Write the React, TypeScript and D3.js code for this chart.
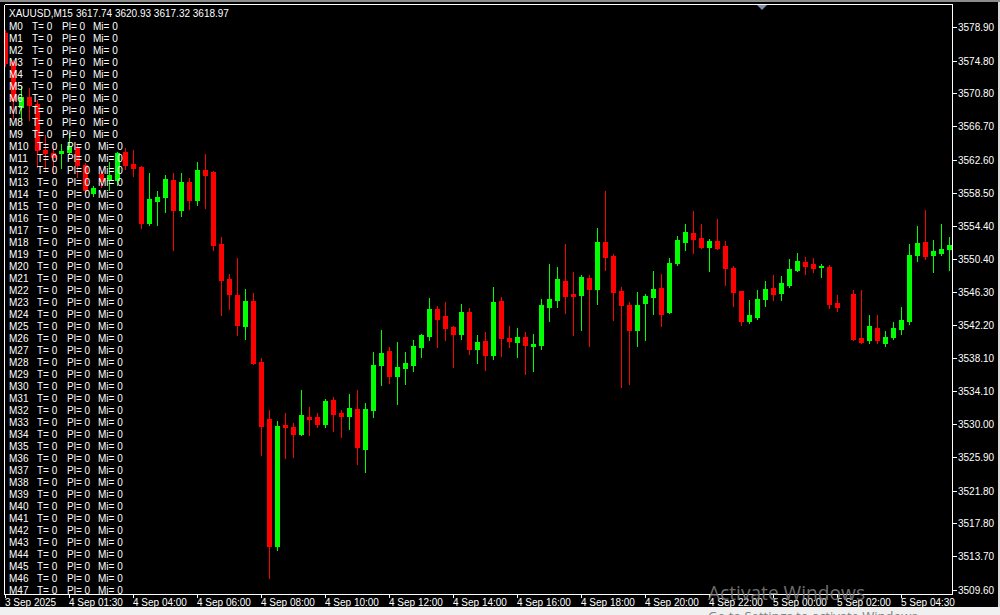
import React from 'react';
import * as d3 from 'd3';

// M15 candles (null = empty slot)
const opens = [
  3578.21, 3574.64, 3569.09, 3570.32, 3569.46, 3563.79, 3563.42, 3563.42, 3563.54, 3564.16,
  3561.94, 3558.48, 3560.83, 3560.09, 3560.09, 3563.54, 3562.06, 3561.69, 3554.79, 3557.5,
  3557.99, 3560.09, 3556.39, 3559.84, 3557.62, 3561.32, 3561.07, 3552.2, 3547.88, 3545.91,
  3542.09, 3545.17, 3537.65, 3530.62, 3514.96, 3529.88, 3529.64, 3528.77, 3530.87, 3530.87,
  3530.0, 3532.96, 3531.36, 3530.99, 3531.85, 3526.92, 3531.73, 3537.28, 3539.01, 3535.92,
  3536.91, 3537.28, 3539.5, 3540.85, 3544.18, 3543.32, 3541.96, 3541.1, 3543.81, 3539.25,
  3540.24, 3538.51, 3545.17, 3540.61, 3540.12, 3540.73, 3539.62, 3539.75, 3544.43, 3545.29,
  3547.64, 3546.03, 3545.91, 3548.01, 3546.65, 3552.44, 3550.72, 3546.4, 3544.68, 3541.59,
  3544.92, 3545.66, 3546.77, 3543.81, 3549.85, 3552.44, 3553.55, 3552.94, 3551.83, 3552.57,
  3551.95, 3549.24, 3546.4, 3542.7, 3543.2, 3545.42, 3546.77, 3546.16, 3547.14, 3548.99,
  3549.98, 3549.73, 3549.36, 3549.36, 3544.92, null, 3546.03, 3540.61, 3540.36, 3541.84,
  3539.99, 3540.73, 3541.72, 3542.7, 3550.84, 3552.44, 3550.84, 3551.09, 3551.58,
];
const highs = [
  3578.58, 3574.88, 3571.68, 3571.43, 3569.95, 3565.64, 3564.4, 3564.53, 3565.88, 3564.53,
  3562.18, 3559.35, 3561.07, 3562.31, 3563.54, 3564.03, 3563.79, 3561.81, 3560.95, 3558.73,
  3560.7, 3560.95, 3560.95, 3560.33, 3562.31, 3563.29, 3561.2, 3553.06, 3548.5, 3550.47,
  3546.65, 3546.16, 3538.14, 3531.73, 3530.37, 3531.36, 3530.13, 3534.2, 3532.1, 3531.36,
  3533.09, 3533.33, 3531.73, 3533.7, 3534.2, 3532.59, 3538.88, 3541.59, 3539.5, 3540.12,
  3538.88, 3540.36, 3541.1, 3545.54, 3544.55, 3545.05, 3542.09, 3544.8, 3544.31, 3540.98,
  3541.35, 3546.9, 3545.66, 3542.09, 3541.84, 3541.35, 3541.1, 3545.42, 3549.73, 3549.36,
  3552.2, 3548.75, 3548.38, 3548.38, 3554.17, 3558.73, 3550.96, 3546.9, 3545.05, 3546.28,
  3546.03, 3548.87, 3548.5, 3550.47, 3553.18, 3554.66, 3556.27, 3554.66, 3552.81, 3555.28,
  3552.57, 3549.48, 3546.4, 3545.29, 3546.53, 3547.64, 3548.38, 3548.25, 3550.35, 3551.09,
  3550.59, 3550.47, 3549.73, 3549.61, 3545.91, null, 3546.53, 3546.53, 3543.44, 3543.44,
  3541.47, 3542.58, 3544.43, 3552.2, 3554.42, 3556.39, 3552.69, 3554.66, 3553.06,
];
const lows = [
  3574.14, 3567.73, 3567.73, 3567.49, 3561.69, 3561.32, 3560.95, 3561.57, 3563.29, 3560.46,
  3558.48, 3558.12, 3559.22, 3558.85, 3559.47, 3561.44, 3560.58, 3554.17, 3554.54, 3554.54,
  3556.14, 3551.46, 3555.65, 3556.51, 3557.01, 3556.64, 3551.46, 3543.44, 3544.18, 3540.98,
  3540.48, 3537.4, 3526.18, 3511.02, 3514.47, 3525.81, 3525.93, 3528.65, 3528.65, 3529.64,
  3529.64, 3529.14, 3528.4, 3529.39, 3525.07, 3524.09, 3530.87, 3534.81, 3535.06, 3532.47,
  3534.94, 3536.54, 3538.27, 3540.36, 3539.5, 3540.36, 3537.03, 3540.48, 3538.64, 3537.53,
  3536.66, 3538.02, 3538.39, 3539.5, 3538.27, 3536.17, 3536.54, 3539.25, 3542.7, 3544.43,
  3543.69, 3540.98, 3541.59, 3539.62, 3544.8, 3548.99, 3542.83, 3534.57, 3534.94, 3539.62,
  3540.36, 3543.57, 3542.09, 3543.69, 3549.61, 3551.46, 3551.09, 3551.7, 3548.87, 3551.58,
  3547.14, 3544.55, 3542.21, 3542.46, 3542.95, 3544.55, 3545.29, 3545.29, 3546.9, 3548.87,
  3548.5, 3548.75, 3548.13, 3544.31, 3543.94, null, 3540.36, 3539.99, 3539.99, 3539.99,
  3539.62, 3540.48, 3541.1, 3542.33, 3550.1, 3550.35, 3548.75, 3550.84, 3548.99,
];
const closes = [
  3574.51, 3569.95, 3570.32, 3569.33, 3563.79, 3563.42, 3562.92, 3563.66, 3564.28, 3561.94,
  3558.85, 3559.1, 3559.96, 3560.7, 3563.42, 3561.94, 3561.57, 3554.79, 3557.75, 3557.99,
  3560.21, 3556.39, 3559.84, 3557.62, 3561.32, 3560.7, 3552.07, 3547.76, 3546.03, 3542.21,
  3545.17, 3537.53, 3529.76, 3514.96, 3529.76, 3529.64, 3528.77, 3531.11, 3530.62, 3530.0,
  3532.84, 3531.24, 3530.99, 3531.98, 3527.17, 3531.85, 3537.28, 3538.76, 3535.92, 3537.03,
  3537.53, 3539.62, 3540.98, 3544.18, 3542.95, 3541.84, 3541.1, 3543.81, 3539.25, 3540.12,
  3538.51, 3545.05, 3540.61, 3540.24, 3540.73, 3539.75, 3539.87, 3544.68, 3545.42, 3547.88,
  3545.79, 3545.79, 3548.13, 3546.65, 3552.44, 3550.59, 3546.28, 3544.68, 3541.59, 3544.68,
  3545.79, 3546.65, 3543.57, 3549.85, 3552.69, 3553.68, 3552.81, 3551.83, 3552.57, 3551.7,
  3549.24, 3546.28, 3542.7, 3543.44, 3545.42, 3546.65, 3546.03, 3547.39, 3549.12, 3550.1,
  3549.48, 3549.24, 3549.48, 3544.8, 3544.43, null, 3540.48, 3540.12, 3542.09, 3540.36,
  3540.73, 3541.84, 3542.83, 3550.84, 3552.32, 3550.72, 3551.33, 3551.58, 3552.07,
];

const priceTicks = [
  '3578.90', '3574.80', '3570.80', '3566.70', '3562.60', '3558.50', '3554.40', '3550.40', '3546.30',
  '3542.20', '3538.10', '3534.10', '3530.00', '3525.90', '3521.80', '3517.80', '3513.70', '3509.60',
];
const timeTickIndex = [0, 8, 16, 24, 32, 40, 48, 56, 64, 72, 80, 88, 96, 104, 112];
const timeTickLabels = [
  '3 Sep 2025', '4 Sep 01:30', '4 Sep 04:00', '4 Sep 06:00', '4 Sep 08:00', '4 Sep 10:00',
  '4 Sep 12:00', '4 Sep 14:00', '4 Sep 16:00', '4 Sep 18:00', '4 Sep 20:00', '4 Sep 22:00',
  '5 Sep 00:00', '5 Sep 02:00', '5 Sep 04:30',
];
const symbolName = 'XAUUSD,M15';
const headerQuote = '3617.74 3620.93 3617.32 3618.97';
const rowCount = 48;

const W = 1000;
const H = 615;
const left = 4;
const right = 952;
const top = 4;
const bottom = 594;
const font = '"Liberation Sans", Arial, sans-serif';

export default function App() {
  const x = d3.scaleLinear([0, opens.length - 1], [5.5, 5.5 + 8 * (opens.length - 1)]);
  const y = d3.scaleLinear([3509.6, 3578.9], [589.5, 27.4]);

  const candles = d3.range(opens.length).filter((i) => opens[i] != null);

  return (
    <svg
      width={W}
      height={H}
      style={{ position: 'absolute', left: 0, top: 0, background: '#000' }}
      fontFamily={font}
    >
      <defs>
        <clipPath id="plot">
          <rect x={left + 1} y={top + 1} width={right - left - 1} height={bottom - top - 1} />
        </clipPath>
      </defs>
      <rect width={W} height={H} fill="#000" />
      <rect width={W} height={2} fill="#8c8c8c" />
      <rect x={998} y={2} width={2} height={H} fill="#d8d8d8" />
      <rect x={0} y={607} width={W} height={8} fill="#f0f0f0" />

      {/* candles */}
      <g clipPath="url(#plot)" shapeRendering="crispEdges">
        {candles.map((i) => {
          const o = opens[i] as number;
          const c = closes[i] as number;
          const up = c >= o;
          const col = up ? '#00ff00' : '#ff0000';
          const cx = Math.floor(x(i));
          const yh = Math.round(y(highs[i] as number));
          const yl = Math.round(y(lows[i] as number));
          const yt = Math.round(y(Math.max(o, c)));
          const yb = Math.round(y(Math.min(o, c)));
          return (
            <g key={i}>
              <rect x={cx} y={yh} width={1} height={yl - yh + 1} fill={col} />
              <rect x={cx - 2} y={yt} width={5} height={Math.max(1, yb - yt + 1)} fill={col} />
            </g>
          );
        })}
      </g>

      {/* frame */}
      <g stroke="#fff" strokeWidth={1} shapeRendering="crispEdges">
        <line x1={left + 0.5} y1={top + 0.5} x2={right + 0.5} y2={top + 0.5} />
        <line x1={left + 0.5} y1={top + 0.5} x2={left + 0.5} y2={bottom + 0.5} />
        <line x1={right + 0.5} y1={top + 0.5} x2={right + 0.5} y2={bottom + 0.5} />
        <line x1={left + 0.5} y1={bottom + 0.5} x2={right + 0.5} y2={bottom + 0.5} />
      </g>
      <polygon points="757,5 767,5 762,10" fill="#7d8ea8" />

      {/* price axis */}
      <g fontSize={10} fill="#fff">
        {priceTicks.map((t) => {
          const py = Math.round(y(+t));
          return (
            <g key={t}>
              <rect x={right + 1} y={py} width={4} height={1} fill="#fff" />
              <text x={958} y={py + 4}>{t}</text>
            </g>
          );
        })}
      </g>

      {/* time axis */}
      <g fontSize={10} fill="#fff">
        {timeTickIndex.map((idx, j) => {
          const tx = Math.floor(x(idx));
          return (
            <g key={idx}>
              <rect x={tx} y={bottom + 1} width={1} height={3} fill="#fff" />
              <text x={tx} y={606}>{timeTickLabels[j]}</text>
            </g>
          );
        })}
      </g>

      {/* text overlay */}
      <g fontSize={10} fill="#fff">
        <text x={9} y={16.5}>{symbolName}</text>
        <text x={76} y={16.5}>{headerQuote}</text>
        {d3.range(rowCount).map((i) => {
          const ty = 29.5 + 12 * i;
          const off = i >= 10 ? 5 : 0;
          return (
            <g key={i}>
              <text x={9} y={ty}>{`M${i}`}</text>
              <text x={32 + off} y={ty}>T= 0</text>
              <text x={62 + off} y={ty}>Pl= 0</text>
              <text x={93 + off} y={ty}>Mi= 0</text>
            </g>
          );
        })}
      </g>

      {/* windows watermark */}
      <g fill="#808080" fontFamily='"Open Sans", sans-serif'>
        <text x={708} y={600} fontSize={20} textLength={157} lengthAdjust="spacingAndGlyphs" opacity={0.85}>
          Activate Windows
        </text>
        <text x={708} y={621} fontSize={13}>Go to Settings to activate Windows.</text>
      </g>
    </svg>
  );
}
